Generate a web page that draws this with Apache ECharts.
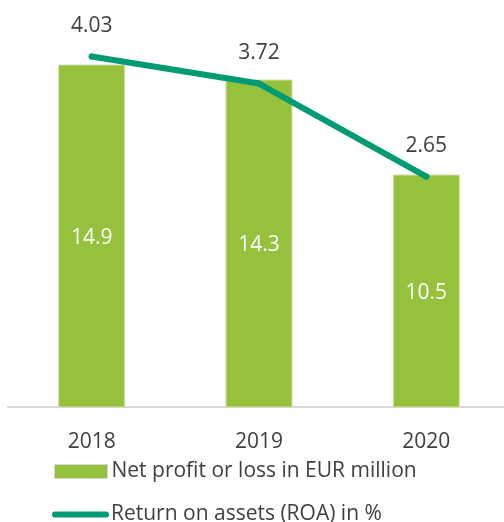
<!DOCTYPE html>
<html>
<head>
<meta charset="utf-8">
<script src="https://cdn.jsdelivr.net/npm/echarts@6/dist/echarts.min.js"></script>
<style>
  html, body { margin: 0; padding: 0; background: #fff; }
  #chart { width: 504px; height: 522px; }
</style>
</head>
<body>
<div id="chart"></div>
<script>
// 数据
const years = ['2018', '2019', '2020']
const netProfit = [14.9, 14.3, 10.5]
const roa = [4.03, 3.72, 2.65]

const barName = 'Net profit or loss in EUR million'
const lineName = 'Return on assets (ROA) in %'
const font = '"Open Sans", sans-serif'

const myChart = echarts.init(document.getElementById('chart'))

myChart.setOption({
  animation: false,
  textStyle: { fontFamily: font },
  grid: { left: 8, width: 502, top: 7, bottom: 115, outerBoundsMode: 'none' },
  legend: [
    {
      data: [barName],
      left: 49,
      top: 456,
      itemWidth: 53,
      itemHeight: 14,
      icon: 'rect',
      itemStyle: { borderColor: '#d6d6d6', borderWidth: 1 },
      textStyle: { fontSize: 21, color: '#404040', padding: [0, 0, 0, -1] }
    },
    {
      data: [{ name: lineName, itemStyle: { color: '#009a73' } }],
      left: 47,
      top: 499,
      itemWidth: 57,
      itemHeight: 6,
      icon: 'path://M3,0 H54 A3,3 0 0 1 54,6 H3 A3,3 0 0 1 3,0 Z',
      textStyle: { fontSize: 21, color: '#404040', padding: [0, 0, 0, -3] }
    }
  ],
  xAxis: {
    type: 'category',
    data: years,
    axisLine: { lineStyle: { color: '#d9d9d9', width: 2 } },
    axisTick: { show: false },
    axisLabel: { fontSize: 21, color: '#404040', margin: 25 }
  },
  yAxis: [
    { type: 'value', min: 1.2, max: 17.2, show: false, splitLine: { show: false } },
    { type: 'value', min: 0, max: 4.6, show: false, splitLine: { show: false } }
  ],
  series: [
    {
      name: barName,
      type: 'bar',
      data: netProfit,
      barWidth: 67,
      itemStyle: { color: '#95c13d', borderColor: '#cfe0a8', borderWidth: 1 },
      label: {
        show: true,
        position: 'inside',
        offset: [0, 2],
        color: '#fff',
        fontSize: 21,
        fontFamily: font
      }
    },
    {
      name: lineName,
      type: 'line',
      yAxisIndex: 1,
      data: roa,
      symbol: 'circle',
      symbolSize: 6,
      itemStyle: { color: '#009a73' },
      lineStyle: { color: '#009a73', width: 6, cap: 'round', join: 'round' },
      label: {
        show: true,
        position: 'top',
        distance: 17,
        color: '#404040',
        fontSize: 21,
        fontFamily: font
      }
    }
  ]
})
</script>
</body>
</html>
